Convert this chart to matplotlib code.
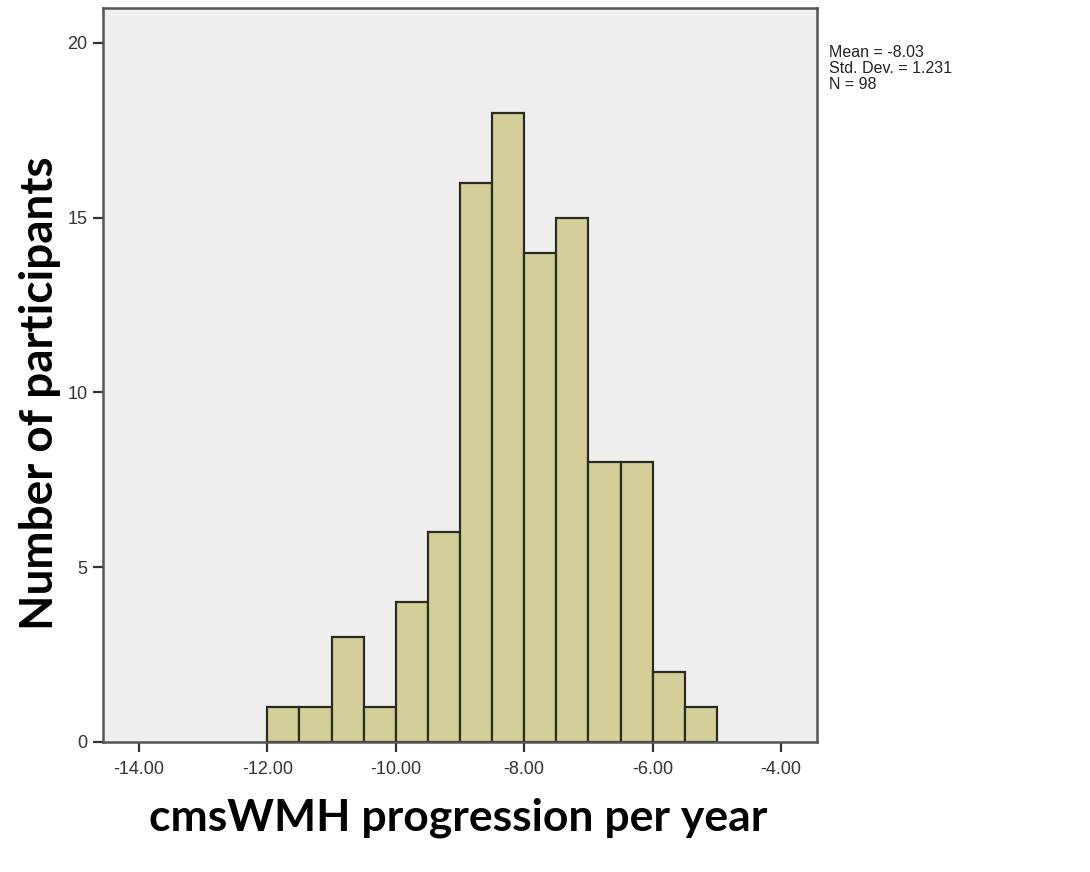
import matplotlib.pyplot as plt
import numpy as np

# histogram bins (width 0.5) and counts
bin_edges = [-12.0, -11.5, -11.0, -10.5, -10.0, -9.5, -9.0, -8.5, -8.0,
             -7.5, -7.0, -6.5, -6.0, -5.5, -5.0]
counts = [1, 1, 3, 1, 4, 6, 16, 18, 14, 15, 8, 8, 2, 1]
x_ticks = [-14, -12, -10, -8, -6, -4]
x_tick_labels = ["-14.00", "-12.00", "-10.00", "-8.00", "-6.00", "-4.00"]
y_ticks = [0, 5, 10, 15, 20]
stats_text = "Mean = -8.03\nStd. Dev. = 1.231\nN = 98"

fig = plt.figure(figsize=(10.9, 8.72), dpi=100)
ax = fig.add_axes([103 / 1090, 1 - 742 / 872, (817 - 103) / 1090, (742 - 8) / 872])
ax.set_facecolor("#efefef")

edges = np.array(bin_edges)
ax.bar(edges[:-1], counts, width=np.diff(edges), align="edge",
       color="#d4cf98", edgecolor="#2b2b22", linewidth=1.6)

ax.set_xlim(-14.56, -3.44)
ax.set_ylim(0, 21)
ax.set_xticks(x_ticks)
ax.set_xticklabels(x_tick_labels, family="Liberation Sans", fontsize=13, color="#333333")
ax.set_yticks(y_ticks)
ax.set_yticklabels([str(v) for v in y_ticks], family="Liberation Sans", fontsize=13, color="#333333")
ax.tick_params(axis="both", direction="out", length=7, width=1.6, color="#333333", pad=4)
ax.tick_params(axis="x", pad=7)
for s in ax.spines.values():
    s.set_color("#555555")
    s.set_linewidth(1.8)

fig.text(40 / 1090, 1 - 393 / 872, "Number of participants", rotation=90,
         ha="center", va="center", family="Lato", fontweight="bold", fontsize=33)
fig.text(458 / 1090, 1 - 818 / 872, "cmsWMH progression per year",
         ha="center", va="center", family="Lato", fontweight="bold", fontsize=32)

fig.text(829 / 1090, 1 - 45 / 872, stats_text, ha="left", va="top",
         family="Liberation Sans", fontsize=11.5, linespacing=1.1, color="#222222")

fig.savefig("out.png", dpi=100, facecolor="white")
